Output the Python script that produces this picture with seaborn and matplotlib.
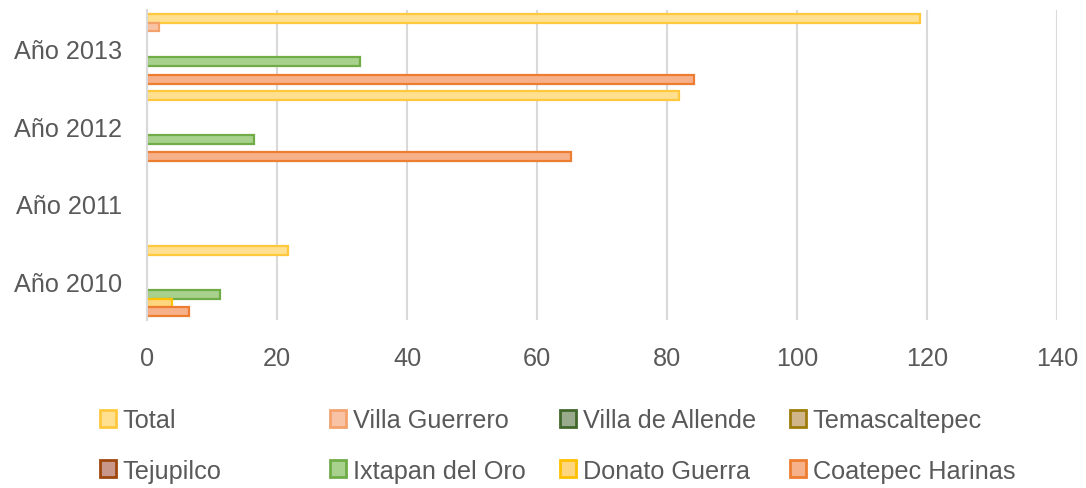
import matplotlib
matplotlib.use("Agg")
import matplotlib.pyplot as plt
from matplotlib.patches import Patch
import seaborn as sns
import pandas as pd

years = ["Año 2013", "Año 2012", "Año 2011", "Año 2010"]
series = ["Total", "Villa Guerrero", "Villa de Allende", "Temascaltepec",
          "Tejupilco", "Ixtapan del Oro", "Donato Guerra", "Coatepec Harinas"]
# values listed in the order of `years` (2013, 2012, 2011, 2010)
total = [118.9, 81.9, 0, 21.7]
villa_guerrero = [1.9, 0, 0, 0]
villa_allende = [0, 0, 0, 0]
temascaltepec = [0, 0, 0, 0]
tejupilco = [0, 0, 0, 0]
ixtapan = [32.7, 16.5, 0, 11.3]
donato = [0, 0, 0, 3.9]
coatepec = [84.2, 65.2, 0, 6.5]

fills = ["#FFE090", "#F8C3A5", "#9AAA8C", "#D0B48A",
         "#C9978A", "#A9D18E", "#FFD680", "#F6B08A"]
edges = ["#FFC83D", "#F4A26C", "#43682B", "#9E7C0C",
         "#9E480E", "#70AD47", "#FFC000", "#ED7D31"]

vals = [total, villa_guerrero, villa_allende, temascaltepec,
        tejupilco, ixtapan, donato, coatepec]
rows = []
for s, v in zip(series, vals):
    for y, x in zip(years, v):
        rows.append({"year": y, "serie": s, "value": x})
df = pd.DataFrame(rows)

sns.set_theme(style="white")
plt.rcParams["font.family"] = ["Liberation Sans", "DejaVu Sans"]
txt = "#595959"
fs = 18.2

fig = plt.figure(figsize=(10.86, 4.89), dpi=100)
ax = fig.add_axes([147 / 1086, 1 - 321 / 489, (1057 - 147) / 1086, (321 - 11) / 489])

sns.barplot(data=df, y="year", x="value", hue="serie", order=years,
            hue_order=series, palette=fills, orient="h", width=0.9,
            ax=ax, legend=False, saturation=1)

for cont, ec in zip(ax.containers, edges):
    for bar in cont:
        bar.set_edgecolor(ec)
        bar.set_linewidth(1.6)
        if bar.get_width() == 0:
            bar.set_visible(False)

ax.set_xlim(0, 140)
ax.set_xticks(range(0, 141, 20))
ax.xaxis.grid(True, color="#D9D9D9", linewidth=1.5)
ax.yaxis.grid(False)
ax.set_axisbelow(True)
for sp in ["top", "right", "bottom"]:
    ax.spines[sp].set_visible(False)
ax.spines["left"].set_color("#D9D9D9")
ax.spines["left"].set_linewidth(1.5)
ax.tick_params(axis="both", length=0, labelsize=fs, colors=txt)
ax.tick_params(axis="x", pad=19)
ax.tick_params(axis="y", pad=18)
ax.set_xlabel("")
ax.set_ylabel("")

# legend, 4 equally spaced columns as in the reference
col_order = [[0, 4], [1, 5], [2, 6], [3, 7]]
xs = [100, 330, 560, 790]
for x0, idxs in zip(xs, col_order):
    handles = [Patch(facecolor=fills[i], edgecolor=edges[i], linewidth=2) for i in idxs]
    labels = [series[i] for i in idxs]
    fig.legend(handles, labels, loc="upper left",
               bbox_to_anchor=(x0 / 1086, 1 - 409 / 489), frameon=False,
               fontsize=fs, labelcolor=txt, handlelength=0.65,
               handleheight=0.65, handletextpad=0.25, labelspacing=1.05,
               borderaxespad=0, borderpad=0)

fig.savefig("out.png", dpi=100)
